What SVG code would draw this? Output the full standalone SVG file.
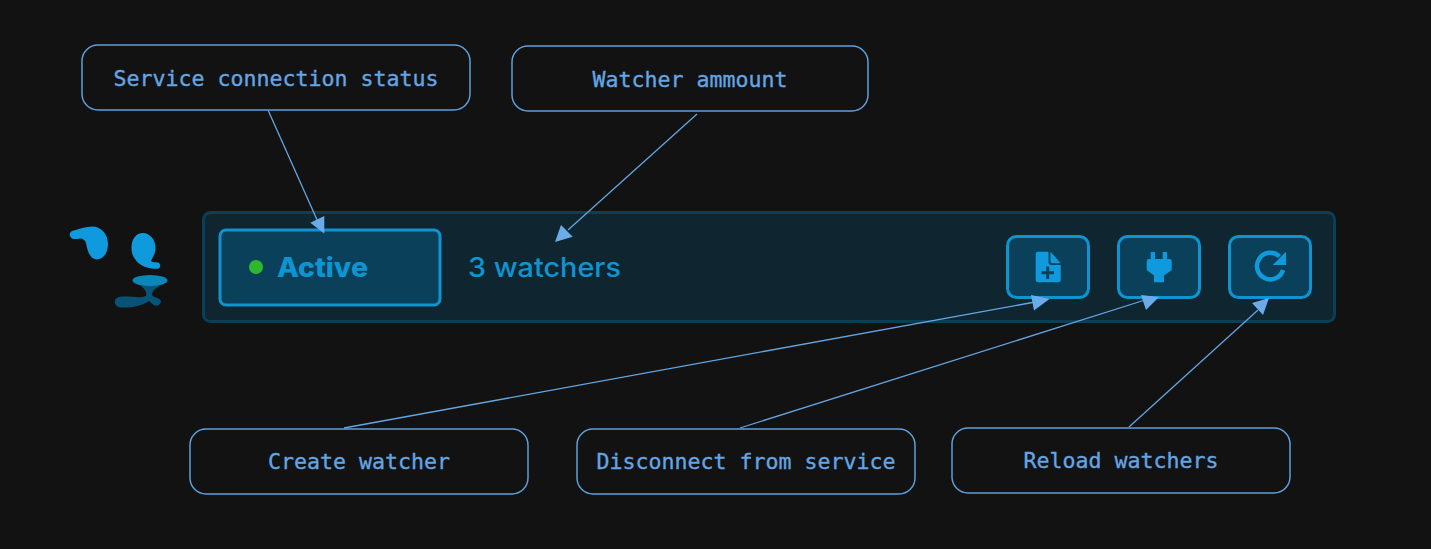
<svg xmlns="http://www.w3.org/2000/svg" width="1431" height="549" viewBox="0 0 1431 549">
<style>
.box{fill:#121212;stroke:#5f9fdc;stroke-width:1.5}
.lbl{font-family:"DejaVu Sans Mono","Liberation Mono",monospace;font-size:21.6px;fill:#64a5e3;stroke:#64a5e3;stroke-width:.35;text-anchor:middle}
.line{stroke:#64a5e3;stroke-width:1.3;fill:none}
.head{fill:#6cabe9}
.btn{fill:#0a4059;stroke:#0f94d2;stroke-width:3}
.ico{fill:#0f9ade}
.ui{font-family:Inter,"Open Sans",sans-serif;fill:#0f94d2}
</style>
<rect width="1431" height="549" fill="#121212"/>
<g id="logo">
<path class="ico" d="M72 231C79 229 86 226.500 92 226.500C101 226.500 108 234 108 244C108 253 103 259.500 97 259.500C90 259.500 87 250 86 243C85 240 83 238.500 80 238.500C77 239 74 239.500 72 238.500C69 236.500 69 232.500 72 231Z"/>
<path class="ico" d="M143 233C150 233 155.500 240 155.500 248C155.500 253 153 257 151 261C152 262.500 155 262 158 262.500C161 263.500 161 268.500 157.500 268.800C150 269 143 267 138.500 263C134 259 131.500 254 131.500 248C131.500 239 136 233 143 233Z"/>
<path d="M140 285.500H160.500C156 288 153 290 151.800 295C153.500 297.500 158 297.500 160.500 300C162 303 158.500 306.500 155 305.500C153 305 151 302.500 149 301C142 306 130 308 121 307.500C113 307 113 298 119 297C128 295.500 140 299 146 296C147.500 292 144 288 140 285.500Z" fill="#075378"/>
<ellipse cx="150" cy="280.500" rx="17.500" ry="5.500" fill="#0a86b8"/>
</g>
<g id="status-bar">
<rect x="203.500" y="212.500" width="1131" height="109" rx="7" fill="#0f252f" stroke="#0b3f58" stroke-width="3"/>
</g>
<g id="status-active">
<rect class="btn" x="220" y="230" width="220" height="75" rx="6"/>
<circle cx="256" cy="267" r="7" fill="#2fb82f"/>
<text class="ui" x="277" y="277" font-size="27" font-weight="800" textLength="91" lengthAdjust="spacingAndGlyphs">Active</text>
</g>
<g id="watcher-count">
<text class="ui" x="468" y="277" font-size="27" font-weight="500" textLength="153" lengthAdjust="spacingAndGlyphs">3 watchers</text>
</g>
<g id="btn-create">
<rect class="btn" x="1007.500" y="236.500" width="81" height="61" rx="9"/>
<path class="ico" d="M1038 251.700H1048.500V262Q1048.500 265 1051.500 265H1060.700V280Q1060.700 282.300 1058.500 282.300H1038Q1035.700 282.300 1035.700 280V254Q1035.700 251.700 1038 251.700Z"/>
<path class="ico" d="M1050.500 251.700L1060.700 263.200H1052.500Q1050.500 263.200 1050.500 261Z"/>
<path d="M1047.700 266.500V279M1041.500 272.700H1054" stroke="#0a4059" stroke-width="3" fill="none"/>
</g>
<g id="btn-disconnect">
<rect class="btn" x="1118.500" y="236.500" width="81" height="61" rx="9"/>
<path class="ico" d="M1150.700 252H1155V259H1162.700V252H1167V259H1169.500Q1171.700 259 1171.700 261V270L1164 275.500V282.300H1154V275.500L1146.700 270V261Q1146.700 259 1149 259H1150.700Z"/>
</g>
<g id="btn-reload">
<rect class="btn" x="1229.500" y="236.500" width="81" height="61" rx="9"/>
<path d="M1279.500 256.500A13.300 13.300 0 1 0 1283 270" fill="none" stroke="#0f9ade" stroke-width="4.500"/>
<path class="ico" d="M1286 251.700V265H1272.700Z"/>
</g>
<g id="connectors">
<path class="line" d="M268 110L318 222"/>
<path class="head" d="M324.300 233.500L310.300 222.700L324.300 216Z"/>
<path class="line" d="M697 114L568 230"/>
<path class="head" d="M555 242L561 225L572.700 236.700Z"/>
<path class="line" d="M344 428L1035 302"/>
<path class="head" d="M1049.500 299L1031 295L1034 310.500Z"/>
<path class="line" d="M740 428L1145 300"/>
<path class="head" d="M1159 297L1141 295L1146 310Z"/>
<path class="line" d="M1129 427L1258 310"/>
<path class="head" d="M1269 298L1252 303L1263 315Z"/>
</g>
<g id="note-status"><rect class="box" x="82" y="45" width="388" height="65" rx="16"/><text class="lbl" x="276" y="86">Service connection status</text></g>
<g id="note-amount"><rect class="box" x="512" y="46" width="356" height="65" rx="16"/><text class="lbl" x="690" y="87">Watcher ammount</text></g>
<g id="note-create"><rect class="box" x="190" y="429" width="338" height="65" rx="16"/><text class="lbl" x="359" y="469">Create watcher</text></g>
<g id="note-disconnect"><rect class="box" x="577" y="429" width="338" height="65" rx="16"/><text class="lbl" x="746" y="469">Disconnect from service</text></g>
<g id="note-reload"><rect class="box" x="952" y="428" width="338" height="65" rx="16"/><text class="lbl" x="1121" y="468">Reload watchers</text></g>
</svg>
